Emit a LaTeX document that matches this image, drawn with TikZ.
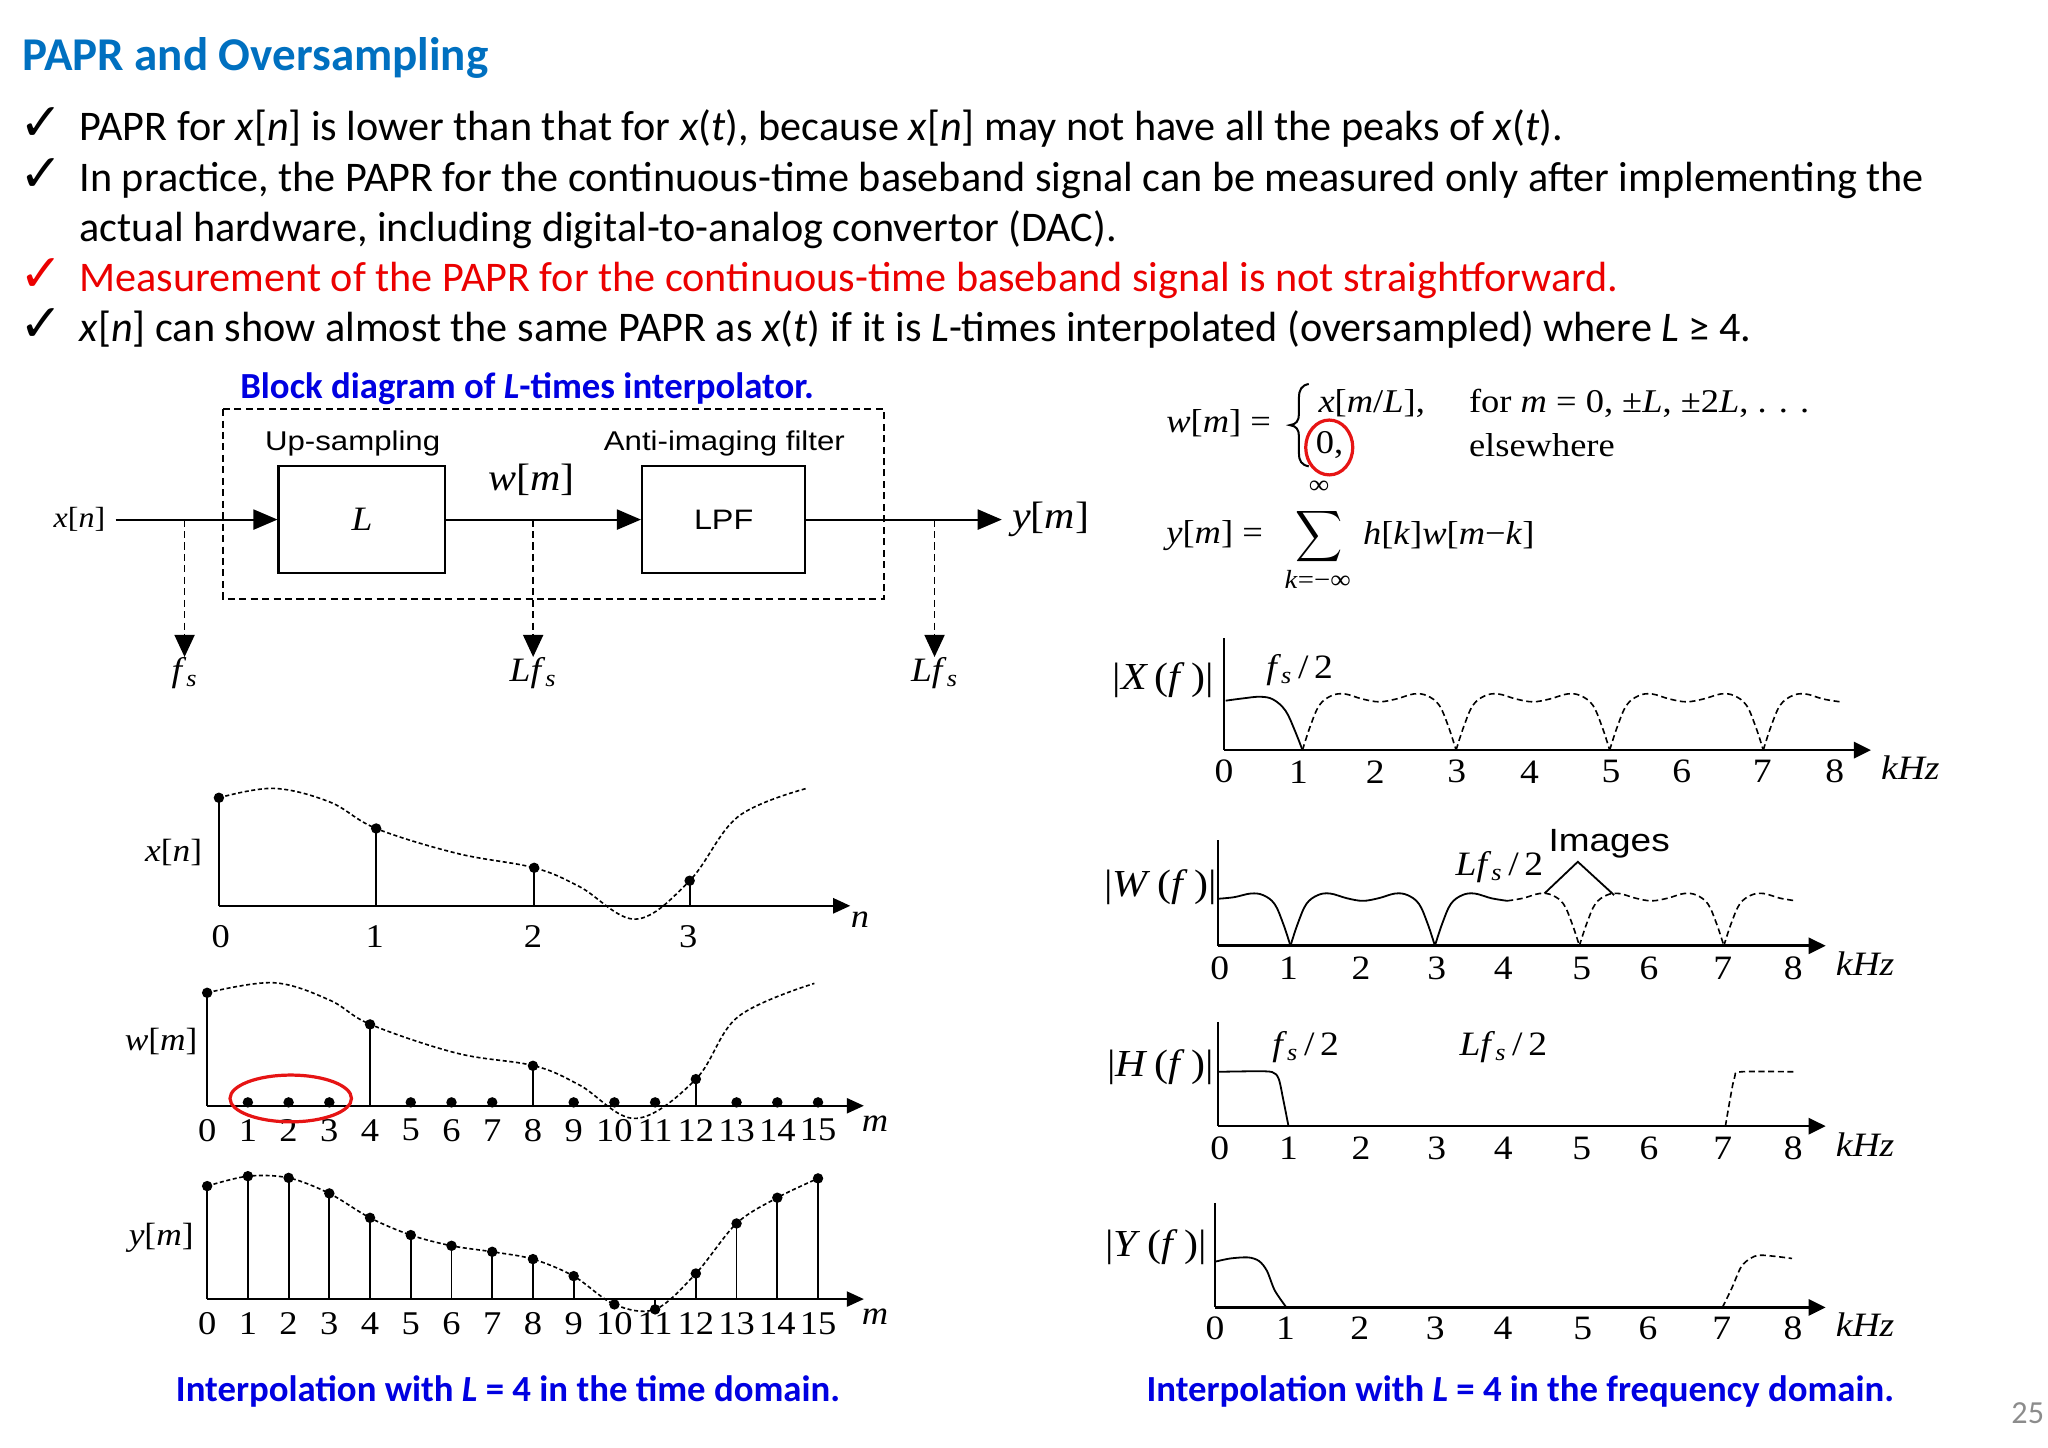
\documentclass[tikz,border=0pt]{standalone}
\usepackage{fontspec}
\usepackage{graphicx}
\setmainfont{Carlito}
\newfontfamily\tm[FakeStretch=1.1]{Liberation Serif}
\newfontfamily\hv[FakeStretch=1.15]{Liberation Sans}
\newfontfamily\dv{DejaVu Sans}
\usetikzlibrary{arrows.meta}
\definecolor{titleblue}{RGB}{0,112,192}
\definecolor{capblue}{RGB}{0,0,225}
\definecolor{slidered}{RGB}{235,0,0}
\definecolor{pagegray}{RGB}{140,140,140}
\definecolor{circred}{RGB}{230,20,20}
\newcommand{\setfs}[1]{\fontsize{#1}{#1}\selectfont}
\newcommand{\iv}[1]{\textit{#1}}
\newcommand{\mysub}[1]{\textsubscript{\textit{#1}}}
\begin{document}
\begin{tikzpicture}[x=0.65pt,y=-0.65pt,
  txt/.style={inner sep=0pt, outer sep=0pt},
  bul/.style={txt, anchor=base west, font={\setfs{21}}},
  chk/.style={txt, anchor=base west, font={\dv\setfs{26}}},
  captxt/.style={txt, font={\bfseries\setfs{18.3}}, text=capblue},
  blk/.style={draw, line width=1pt, minimum height=53.6pt, inner sep=0pt},
  sig/.style={line width=1pt, -{Triangle[length=12pt,width=10pt]}},
  tap/.style={line width=0.8pt, dash pattern=on 3.5pt off 2.2pt, -{Triangle[length=11pt,width=10pt]}},
  hvl/.style={txt, font={\hv\setfs{13.5}}},
  tml/.style={txt, font={\tm\setfs{19}}},
  eq/.style={txt, anchor=west, font={\tm\setfs{16.5}}},
  axa/.style={line width=1.1pt, -{Triangle[length=8.5pt,width=7.5pt]}},
  fax/.style={line width=1.3pt, -{Triangle[length=8.5pt,width=8pt]}},
  stemline/.style={line width=0.9pt},
  crv/.style={line width=0.8pt, dash pattern=on 2pt off 1.3pt},
  fdash/.style={line width=0.8pt, dash pattern=on 3pt off 1.8pt},
  sol/.style={line width=0.9pt},
  ticklab/.style={txt, font={\tm\setfs{16.5}}},
  ftick/.style={txt, font={\tm\setfs{17}}},
  flab/.style={txt, font={\tm\setfs{19}}},
  fnote/.style={txt, font={\tm\setfs{17}}},
]
\useasboundingbox[fill=white] (0,0) rectangle (1568,1108);

% ---------------- slide text ----------------
\node[txt, anchor=base west, font={\bfseries\setfs{23.4}}, text=titleblue] (title) at (17,53.6) {PAPR and Oversampling};
\node[chk] (c1) at (15,107.2) {✓};
\node[bul] (b1) at (61,107.2) {PAPR for \iv{x}[\iv{n}] is lower than that for \iv{x}(\iv{t}), because \iv{x}[\iv{n}] may not have all the peaks of \iv{x}(\iv{t}).};
\node[chk] (c2) at (15,146.8) {✓};
\node[bul] (b2) at (61,146.8) {In practice, the PAPR for the continuous-time baseband signal can be measured only after implementing the};
\node[bul] (b3) at (61,185) {actual hardware, including digital-to-analog convertor (DAC).};
\node[chk, text=slidered] (c4) at (15,223.3) {✓};
\node[bul, text=slidered] (b4) at (61,223.3) {Measurement of the PAPR for the continuous-time baseband signal is not straightforward.};
\node[chk] (c5) at (15,261.6) {✓};
\node[bul] (b5) at (61,261.6) {\iv{x}[\iv{n}] can show almost the same PAPR as \iv{x}(\iv{t}) if it is \iv{L}-times interpolated (oversampled) where \iv{L} ≥ 4.};

% ---------------- block diagram ----------------
\node[captxt] (bdt) at (403.6,297.3) {Block diagram of \textit{L}-times interpolator.};
\draw[line width=0.9pt, dash pattern=on 3.5pt off 2.2pt] (170.8,313.2) rectangle (676.8,458.7);
\node[hvl] (up) at (270,339.5) {Up-sampling};
\node[hvl] (aif) at (554.6,339.5) {Anti-imaging filter};
\node[blk, minimum width=83.1pt] (Lb) at (277.15,397.8) {\tm\itshape\setfs{17}L};
\node[blk, minimum width=81.3pt] (LPF) at (554.05,397.8) {\hv\setfs{14}LPF};
\node[tml] (wm) at (407,367.5) {\iv{w}[\iv{m}]};
\node[txt, anchor=east, font={\tm\setfs{14.5}}] (xn) at (80.6,397.8) {\iv{x}[\iv{n}]};
\node[tml, anchor=west] (ym) at (775,397.8) {\iv{y}[\iv{m}]};
\coordinate (xin) at (88.6,397.8);
\coordinate (yout) at (767,397.8);
\draw[sig] (xin) -- (Lb.west);
\draw[sig] (Lb.east) -- (LPF.west);
\draw[sig] (LPF.east) -- (yout);
\coordinate (tap1) at (141.3,397.8);
\coordinate (tap2) at (408.2,397.8);
\coordinate (tap3) at (715.5,397.8);
\node[txt, anchor=north, font={\tm\setfs{17}}] (fs1) at (141.3,503) {\iv{f}\mysub{s}};
\node[txt, anchor=north, font={\tm\setfs{17}}] (fs2) at (408.2,503) {\iv{Lf}\mysub{s}};
\node[txt, anchor=north, font={\tm\setfs{17}}] (fs3) at (715.5,503) {\iv{Lf}\mysub{s}};
\draw[tap] (tap1) -- (fs1.north);
\draw[tap] (tap2) -- (fs2.north);
\draw[tap] (tap3) -- (fs3.north);

% ---------------- equations ----------------
\node[eq] (eqw) at (893,324) {\iv{w}[\iv{m}] =};
\draw[line width=1pt] (1002,294) .. controls (996.5,295) and (994.5,298.5) .. (994.5,304.5) -- (994.5,317) .. controls (994.5,322) and (992.5,325) .. (987.5,325.5) .. controls (992.5,326) and (994.5,329) .. (994.5,334) -- (994.5,347) .. controls (994.5,353) and (996.5,356) .. (1002,357);
\node[eq] (c1a) at (1009.5,308.8) {\iv{x}[\iv{m}/\iv{L}],};
\node[eq] (c1b) at (1124.7,308.8) {for \iv{m} = 0, ±\iv{L}, ±2\iv{L}, . . .};
\node[eq] (c2a) at (1007.5,340.7) {0,};
\node[eq] (c2b) at (1124.7,340.7) {elsewhere};
\draw[circred, line width=1.6pt] (1017.7,342.6) ellipse [x radius=18, y radius=21];
\node[eq] (eqy) at (893,409.7) {\iv{y}[\iv{m}] =};
\node[txt] (sum) at (1010,410.5) {\resizebox*{23.5pt}{28.5pt}{$\displaystyle\sum$}};
\node[txt, font={\tm\setfs{13}}] (inf) at (1010,373) {∞};
\node[txt, font={\tm\setfs{13}}] (kinf) at (1008.9,443.5) {\iv{k}=−∞};
\node[eq] (hw) at (1043.6,409.7) {\iv{h}[\iv{k}]\iv{w}[\iv{m}−\iv{k}]};

% ---------------- x[n] plot ----------------
\node[txt, font={\tm\setfs{16}}] (lxn) at (133,653) {\iv{x}[\iv{n}]};
\draw[axa] (167.6,693.5) -- (651,693.5);
\foreach \x/\y in {167.6/610.8, 288/634.3, 409/664.4, 528/674.3} {
  \draw[stemline] (\x,693.5) -- (\x,\y);
  \fill (\x,\y) circle (4);
}
\draw[crv] plot[smooth, tension=0.6] coordinates {(167.6,610.8) (209.4,603.6) (252.4,614) (288,634.3) (350,653.4) (409,664.4) (443.8,678.9) (486.8,703.7) (528,674.3) (565,625.3) (617.6,603.6)};
\foreach \v/\t [count=\i] in {169/0,287/1,408/2,527/3} \node[ticklab] (xnt\i) at (\v,717) {\t};
\node[ticklab] (nlab) at (658.5,704.5) {\iv{n}};

% ---------------- w[m] plot ----------------
\node[txt, font={\tm\setfs{16}}] (lwm) at (123.4,797.6) {\iv{w}[\iv{m}]};
\draw[axa] (158.6,846.6) -- (661.4,846.6);
\foreach \m/\y in {0/760.1, 4/784.3, 8/816, 12/826.2} {
  \draw[stemline] ({158.6+31.18*\m},846.6) -- ({158.6+31.18*\m},\y);
  \fill ({158.6+31.18*\m},\y) circle (4);
}
\foreach \m in {1,2,3,5,6,7,9,10,11,13,14,15} \fill ({158.6+31.18*\m},844) circle (4);
\draw[crv] plot[smooth, tension=0.6] coordinates {(158.6,760.1) (209.4,752.4) (252.4,765.7) (283.6,784.3) (350,806.4) (409,816) (443.8,830.8) (486.8,856.3) (532.8,826.2) (565,778.5) (623.5,752.9)};
\foreach \m in {0,...,15} \node[ticklab] (wmt\m) at ({158.6+31.18*\m},865.3) {\m};
\node[ticklab] (mlab1) at (670,860) {\iv{m}};
\draw[circred, line width=1.6pt] (222.6,841) ellipse [x radius=46.5, y radius=17.9];

% ---------------- y[m] plot ----------------
\node[txt, font={\tm\setfs{16}}] (lym) at (123.4,948) {\iv{y}[\iv{m}]};
\draw[axa] (158.6,994.6) -- (661.4,994.6);
\foreach \y [count=\m from 0] in {908.1,900.5,901.8,913.7,932.4,945.6,953.8,958.4,964,977,998.7,1002.5,975,936.7,917,902.2} {
  \draw[stemline] ({158.6+31.18*\m},994.6) -- ({158.6+31.18*\m},\y);
  \fill ({158.6+31.18*\m},\y) circle (4);
}
\draw[crv] plot[smooth, tension=0.55] coordinates {(158.6,908.1) (189.8,900.5) (221,901.8) (252.1,913.7) (283.3,932.4) (314.5,945.6) (345.7,953.8) (376.9,958.4) (408,964) (439.2,977) (470.4,998.7) (501.6,1002.5) (532.8,975) (563.9,936.7) (595.1,917) (626.3,902.2)};
\foreach \m in {0,...,15} \node[ticklab] (ymt\m) at ({158.6+31.18*\m},1013.3) {\m};
\node[ticklab] (mlab2) at (670,1008) {\iv{m}};
\node[captxt] (capT) at (389,1065.6) {Interpolation with \textit{L} = 4 in the time domain.};

% ---------------- |X(f)| ----------------
\node[flab] (lX) at (890.8,520.7) {|\iv{X}\,(\iv{f}\,)|};
\draw[line width=1pt] (937.2,488.8) -- (937.2,574.3);
\draw[fax] (937.2,574.3) -- (1432.5,574.3);
\node[fnote] (xfs) at (995,513) {\iv{f}\mysub{s}\,/\,2};
\begin{scope}[shift={(938.4,574.3)}, xscale=58.8, yscale=-43]
  \draw[sol] plot[smooth, tension=0.6] coordinates {(0,0.88) (0.22,0.92) (0.45,0.95) (0.62,0.9) (0.78,0.7) (0.9,0.35) (1,0)};
  \foreach \c in {2,4,6}
    \draw[fdash] plot[smooth, tension=0.6] coordinates {({\c-1},0) ({\c-0.9},0.42) ({\c-0.78},0.8) ({\c-0.62},0.97) ({\c-0.45},1) ({\c-0.22},0.91) (\c,0.86) ({\c+0.22},0.91) ({\c+0.45},1) ({\c+0.62},0.97) ({\c+0.78},0.8) ({\c+0.9},0.42) ({\c+1},0)};
  \draw[fdash] plot[smooth, tension=0.6] coordinates {(7,0) (7.1,0.42) (7.22,0.8) (7.38,0.97) (7.55,1) (7.78,0.91) (8,0.86)};
\end{scope}
\foreach \v [count=\i from 0] in {937.2,994.1,1052.9,1115.4,1171,1233.5,1287.6,1349.2,1404.8} \node[ftick] (xft\i) at (\v,590.9) {\i};
\node[ftick] (xkhz) at (1462.6,588) {\iv{kHz}};

% ---------------- |W(f)| ----------------
\node[flab] (lW) at (888.4,679) {|\iv{W}\,(\iv{f}\,)|};
\draw[line width=1pt] (932.5,643.2) -- (932.5,724.1);
\draw[fax] (932.5,724.1) -- (1397.8,724.1);
\node[fnote] (wlfs) at (1148,663.6) {\iv{Lf}\mysub{s}\,/\,2};
\node[hvl, font={\hv\setfs{16}}] (img) at (1232,645.7) {Images};
\coordinate (apx) at (1208,659.8);
\coordinate (imL) at (1182.5,684);
\coordinate (imR) at (1235.8,685.3);
\draw[sol] (imL) -- (apx) -- (imR);
\begin{scope}[shift={(932.7,724.1)}, xscale=55.3, yscale=-40]
  \draw[sol] plot[smooth, tension=0.6] coordinates {(0,0.9) (0.22,0.93) (0.45,1) (0.62,0.97) (0.78,0.8) (0.9,0.42) (1,0)};
  \draw[sol] plot[smooth, tension=0.6] coordinates {(1,0) (1.1,0.42) (1.22,0.8) (1.38,0.97) (1.55,1) (1.78,0.91) (2,0.86) (2.22,0.91) (2.45,1) (2.62,0.97) (2.78,0.8) (2.9,0.42) (3,0)};
  \draw[sol] plot[smooth, tension=0.6] coordinates {(3,0) (3.1,0.42) (3.22,0.8) (3.38,0.97) (3.55,1) (3.78,0.91) (4,0.86)};
  \draw[fdash] plot[smooth, tension=0.6] coordinates {(4,0.86) (4.22,0.91) (4.45,1) (4.62,0.97) (4.78,0.8) (4.9,0.42) (5,0)};
  \draw[fdash] plot[smooth, tension=0.6] coordinates {(5,0) (5.1,0.42) (5.22,0.8) (5.38,0.97) (5.55,1) (5.78,0.91) (6,0.86) (6.22,0.91) (6.45,1) (6.62,0.97) (6.78,0.8) (6.9,0.42) (7,0)};
  \draw[fdash] plot[smooth, tension=0.6] coordinates {(7,0) (7.1,0.42) (7.22,0.8) (7.38,0.97) (7.55,1) (7.78,0.91) (8,0.86)};
\end{scope}
\foreach \v [count=\i from 0] in {933.8,986.5,1042,1100,1151,1211,1262.5,1318.9,1373} \node[ftick] (wft\i) at (\v,741.4) {\i};
\node[ftick] (wkhz) at (1427.9,738) {\iv{kHz}};

% ---------------- |H(f)| ----------------
\node[flab] (lH) at (888.4,816.7) {|\iv{H}\,(\iv{f}\,)|};
\draw[line width=1pt] (932.5,782.3) -- (932.5,862.2);
\draw[fax] (932.5,862.2) -- (1397.8,862.2);
\node[fnote] (hfs) at (999.6,801.4) {\iv{f}\mysub{s}\,/\,2};
\node[fnote] (hlfs) at (1151,801.4) {\iv{Lf}\mysub{s}\,/\,2};
\draw[sol] plot[smooth, tension=0.5] coordinates {(932.5,820.6) (960,820.2) (974,820.8) (979,826) (982.5,842) (986.5,862.2)};
\draw[fdash] plot[smooth, tension=0.5] coordinates {(1321,862.2) (1324.5,842) (1328,825) (1333,820.6) (1374,820.6)};
\foreach \v [count=\i from 0] in {933.8,986.5,1042,1100,1151,1211,1262.5,1318.9,1373} \node[ftick] (hft\i) at (\v,879) {\i};
\node[ftick] (hkhz) at (1427.9,876) {\iv{kHz}};

% ---------------- |Y(f)| ----------------
\node[flab] (lY) at (885,954.6) {|\iv{Y}\,(\iv{f}\,)|};
\draw[line width=1pt] (930.2,920.9) -- (930.2,1001);
\draw[fax] (930.2,1001) -- (1397.8,1001);
\draw[sol] plot[smooth, tension=0.5] coordinates {(930.2,966) (942,963.5) (955.7,962.7) (964,965.5) (970,973) (976,988) (984.9,1001)};
\draw[fdash] plot[smooth, tension=0.5] coordinates {(1318.7,1001) (1326,986) (1333,970) (1340,963.5) (1347,961) (1360,962) (1372,963.5)};
\foreach \v [count=\i from 0] in {930.2,984.2,1041,1098.9,1150.7,1211.8,1261.8,1318.2,1372.8} \node[ftick] (yft\i) at (\v,1017.1) {\i};
\node[ftick] (ykhz) at (1427.9,1014) {\iv{kHz}};
\node[captxt] (capF) at (1164,1065.6) {Interpolation with \textit{L} = 4 in the frequency domain.};

\node[txt, font={\setfs{16}}, text=pagegray] (pg) at (1552.5,1082.2) {25};
\end{tikzpicture}
\end{document}
